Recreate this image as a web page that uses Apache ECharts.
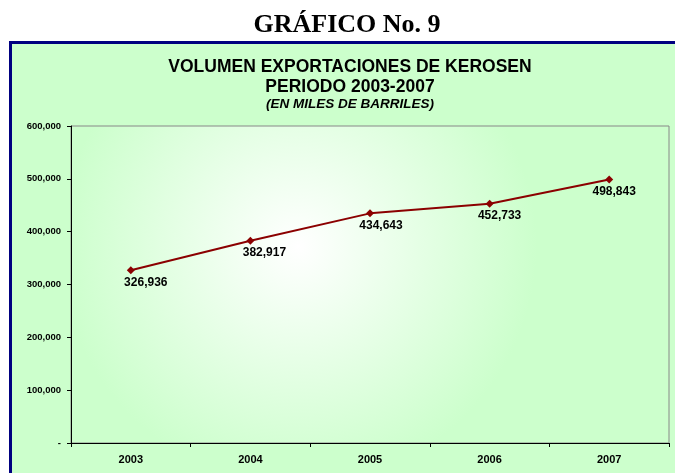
<!DOCTYPE html>
<html>
<head>
<meta charset="utf-8">
<script src="https://cdn.jsdelivr.net/npm/echarts@6/dist/echarts.min.js"></script>
<style>
  html, body { margin: 0; padding: 0; background: #fff; }
  #chart { width: 675px; height: 473px; }
</style>
</head>
<body>
<div id="chart"></div>
<script>
// Data
const years = ['2003', '2004', '2005', '2006', '2007'];
const volumes = [326936, 382917, 434643, 452733, 498843];
const yTicks = [0, 100000, 200000, 300000, 400000, 500000, 600000];

// horizontal nudge of each value label (px), as placed in the original
const labelShift = [15, 14, 11, 10, 5];

(function() {
    const chart = echarts.init(document.getElementById('chart'), null, { renderer: 'canvas' });

    const fmt = v => v === 0 ? '-' : v.toLocaleString('en-US');

    const option = {
        backgroundColor: '#ffffff',
        animation: false,
        title: [
            {
                text: 'GRÁFICO No. 9',
                left: 342, top: 7, textAlign: 'center',
                textStyle: { fontFamily: 'Liberation Serif', fontWeight: 'bold', fontSize: 26, color: '#000' }
            },
            {
                text: 'VOLUMEN EXPORTACIONES DE KEROSEN\nPERIODO 2003-2007',
                left: 345, top: 52, textAlign: 'center',
                textStyle: { fontFamily: 'Liberation Sans', fontWeight: 'bold', fontSize: 17.5, lineHeight: 20, color: '#000' }
            },
            {
                text: '(EN MILES DE BARRILES)',
                left: 345, top: 92, textAlign: 'center',
                textStyle: { fontFamily: 'Liberation Sans', fontWeight: 'bold', fontStyle: 'italic', fontSize: 13.5, color: '#000' }
            }
        ],
        graphic: [
            {
                type: 'rect', z: -10, silent: true,
                shape: { x: 10.5, y: 42.5, width: 680, height: 450 },
                style: { fill: '#ccffcc', stroke: '#000080', lineWidth: 3 }
            }
        ],
        grid: {
            left: 71, right: 6, top: 126, bottom: 30,
            show: true,
            backgroundColor: new echarts.graphic.RadialGradient(0.38, 0.38, 0.75, [
                { offset: 0, color: '#ffffff' },
                { offset: 0.45, color: '#e8ffe8' },
                { offset: 1, color: '#ccffcc' }
            ]),
            borderColor: '#888888',
            borderWidth: 1
        },
        xAxis: {
            type: 'category',
            data: years,
            boundaryGap: true,
            axisLine: { lineStyle: { color: '#000', width: 1 } },
            axisTick: { show: true, length: 4, inside: false, lineStyle: { color: '#000' } },
            axisLabel: { color: '#000', fontFamily: 'Liberation Sans', fontWeight: 'bold', fontSize: 11, margin: 11 },
            splitLine: { show: false }
        },
        yAxis: {
            type: 'value',
            min: yTicks[0],
            max: yTicks[yTicks.length - 1],
            interval: yTicks[1] - yTicks[0],
            axisLine: { show: true, lineStyle: { color: '#000', width: 1 } },
            axisTick: { show: true, length: 4, lineStyle: { color: '#000' } },
            axisLabel: { color: '#000', fontFamily: 'Liberation Sans', fontWeight: 'bold', fontSize: 9.5, margin: 10, formatter: fmt },
            splitLine: { show: false }
        },
        series: [
            {
                name: 'Volumen',
                type: 'line',
                data: volumes.map((v, i) => ({ value: v, label: { offset: [labelShift[i], 0] } })),
                symbol: 'diamond',
                symbolSize: 8,
                lineStyle: { color: '#8b0000', width: 2 },
                itemStyle: { color: '#8b0000' },
                label: {
                    show: true,
                    position: 'bottom',
                    distance: 2,
                    formatter: p => fmt(p.value),
                    color: '#000',
                    fontFamily: 'Liberation Sans',
                    fontWeight: 'bold',
                    fontSize: 12
                }
            }
        ]
    };

    chart.setOption(option);
    window.addEventListener('resize', () => chart.resize());
})();
</script>
</body>
</html>
